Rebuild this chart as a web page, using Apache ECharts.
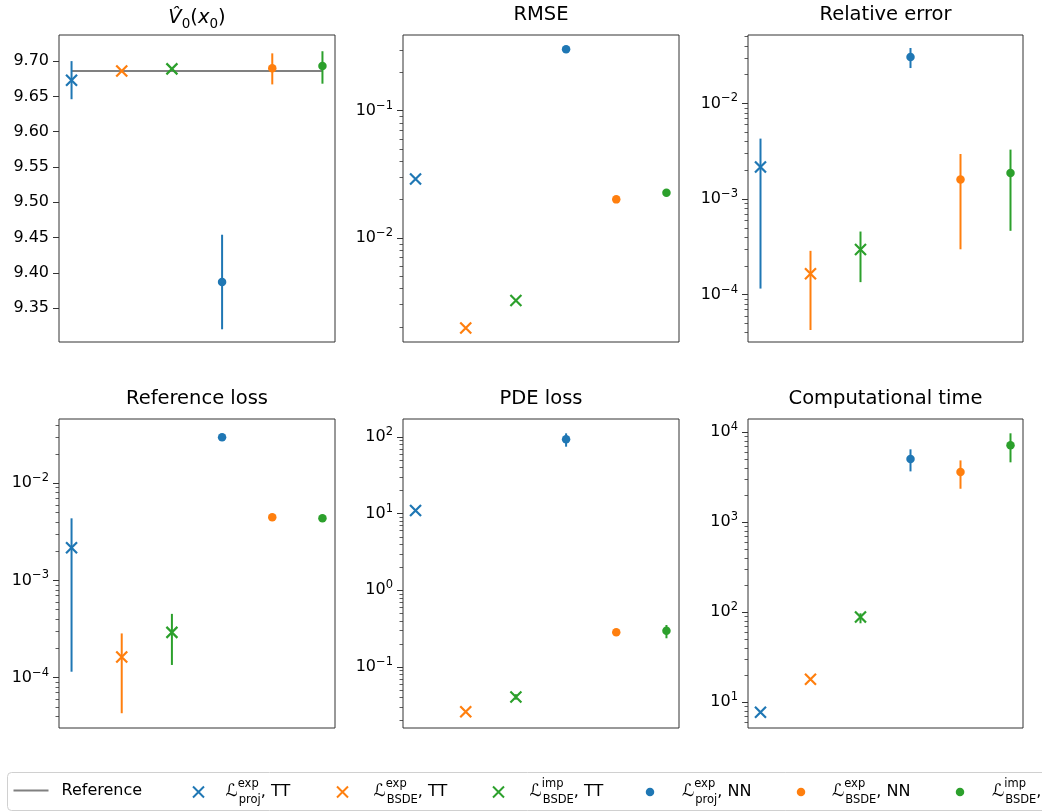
<!DOCTYPE html>
<html>
<head>
<meta charset="utf-8">
<script src="https://cdn.jsdelivr.net/npm/echarts@6/dist/echarts.min.js"></script>
<style>
html, body { margin: 0; padding: 0; background: #fff; }
#chart { width: 1042px; height: 811px; }
</style>
</head>
<body>
<div id="chart"></div>
<script>
// methods, in x order (0..5)
var methods = ['proj_TT', 'bsde_TT', 'imp_TT', 'proj_NN', 'bsde_NN', 'imp_NN'];
var methodColors = ['#1f77b4', '#ff7f0e', '#2ca02c', '#1f77b4', '#ff7f0e', '#2ca02c'];
var methodIsTT = [true, true, true, false, false, false];
var xPos = [0, 1, 2, 3, 4, 5];

// V0(x0)
var v0Val = [9.673, 9.686, 9.689, 9.387, 9.690, 9.693];
var v0Lo = [9.646, null, null, 9.320, 9.667, 9.668];
var v0Hi = [9.700, null, null, 9.454, 9.711, 9.714];
var v0Reference = 9.686;
var v0Ticks = [9.35, 9.40, 9.45, 9.50, 9.55, 9.60, 9.65, 9.70];

// RMSE
var rmseVal = [0.0291, 0.00196, 0.00322, 0.305, 0.0201, 0.0227];
var rmseTicks = [0.01, 0.1];

// relative error
var relVal = [0.00216, 1.65e-4, 2.96e-4, 0.0306, 0.0016, 0.00187];
var relLo = [1.156e-4, 4.26e-5, 1.35e-4, 0.0235, 2.98e-4, 4.65e-4];
var relHi = [0.00429, 2.87e-4, 4.57e-4, 0.0381, 0.00296, 0.00329];
var relTicks = [1e-4, 1e-3, 1e-2];

// reference loss
var refLossVal = [0.00217, 1.63e-4, 2.92e-4, 0.0297, 0.00447, 0.00436];
var refLossLo = [1.15e-4, 4.3e-5, 1.35e-4, null, null, null];
var refLossHi = [0.00436, 2.85e-4, 4.53e-4, null, null, null];
var refLossTicks = [1e-4, 1e-3, 1e-2];

// PDE loss
var pdeVal = [11.0, 0.0261, 0.0407, 93.3, 0.283, 0.298];
var pdeLo = [null, null, 0.0375, 74.8, null, 0.237];
var pdeHi = [null, null, 0.0442, 111.7, null, 0.353];
var pdeTicks = [0.1, 1, 10, 100];

// computational time
var timeVal = [7.74, 18.0, 88.7, 5050, 3617, 7180];
var timeLo = [null, null, 75.5, 3680, 2360, 4640];
var timeHi = [null, null, 97.5, 6470, 4875, 9750];
var timeTicks = [10, 100, 1000, 10000];

var FONT = 'DejaVu Sans';
var CROSS = 'path://M0,0L10,10M0,10L10,0';

var panels = [
    {title: '{v|V\u0302}{s|0}{p|(}{i|x}{s|0}{p|)}', val: v0Val, lo: v0Lo, hi: v0Hi, log: false, ticks: v0Ticks, min: 9.302, max: 9.737, rect: [59, 35, 276, 307]},
    {title: 'RMSE', val: rmseVal, lo: null, hi: null, log: true, ticks: rmseTicks, min: 0.00152, max: 0.394, rect: [403, 35, 276, 307]},
    {title: 'Relative error', val: relVal, lo: relLo, hi: relHi, log: true, ticks: relTicks, min: 3.19e-5, max: 0.0521, rect: [748, 35, 275, 307]},
    {title: 'Reference loss', val: refLossVal, lo: refLossLo, hi: refLossHi, log: true, ticks: refLossTicks, min: 3.03e-5, max: 0.0459, rect: [59, 419, 276, 309]},
    {title: 'PDE loss', val: pdeVal, lo: pdeLo, hi: pdeHi, log: true, ticks: pdeTicks, min: 0.016, max: 171.8, rect: [403, 419, 276, 309]},
    {title: 'Computational time', val: timeVal, lo: timeLo, hi: timeHi, log: true, ticks: timeTicks, min: 5.18, max: 14060, rect: [748, 419, 275, 309]}
];

// minor ticks of a log axis: 2..9 x 10^k inside [lo, hi]
const minorTicks = (lo, hi) => {
    var out = [];
    for (var e = Math.floor(Math.log10(lo)); e <= Math.ceil(Math.log10(hi)); e++) {
        for (var k = 2; k <= 9; k++) {
            var v = k * Math.pow(10, e);
            if (v >= lo && v <= hi) out.push(v);
        }
    }
    return out;
};

const logLabel = (v) => {
    var e = Math.round(Math.log10(v));
    return '{b|10}{sup|' + String(e).replace('-', '\u2212') + '}';
};

var grids = [], xAxes = [], yAxes = [], titles = [], series = [];

panels.forEach((p, i) => {
    var r = p.rect;
    grids.push({left: r[0], top: r[1], width: r[2], height: r[3], show: true,
        borderColor: '#333', borderWidth: 1, backgroundColor: 'transparent'});

    titles.push({
        text: p.title, left: r[0] + r[2] / 2, top: r[1] - 30, textAlign: 'center', padding: 0,
        textStyle: {
            fontFamily: FONT, fontSize: 19.5, fontWeight: 'normal', color: '#000',
            rich: {
                v: {fontFamily: FONT, fontSize: 19.5, fontStyle: 'italic', lineHeight: 26},
                i: {fontFamily: FONT, fontSize: 19.5, fontStyle: 'italic', lineHeight: 26},
                p: {fontFamily: FONT, fontSize: 19.5, lineHeight: 26},
                s: {fontFamily: FONT, fontSize: 13.5, lineHeight: 26, verticalAlign: 'bottom'}
            }
        }
    });

    xAxes.push({gridIndex: i, type: 'value', min: -0.25, max: 5.25,
        axisLine: {show: false, onZero: false}, axisTick: {show: false}, axisLabel: {show: false}, splitLine: {show: false}});

    var yType = p.log ? 'log' : 'value';
    yAxes.push({
        gridIndex: i, type: yType, logBase: 10, min: p.min, max: p.max, position: 'left', offset: 0,
        axisLine: {show: false, onZero: false}, splitLine: {show: false},
        axisTick: {show: true, length: 6, customValues: p.ticks, lineStyle: {color: '#333', width: 1}},
        axisLabel: {
            customValues: p.ticks, margin: 10, color: '#000', fontFamily: FONT, fontSize: 16,
            formatter: p.log ? logLabel : (v) => '{b|' + v.toFixed(2) + '}',
            rich: {
                b: {fontFamily: FONT, fontSize: 16, lineHeight: 22, color: '#000'},
                sup: {fontFamily: FONT, fontSize: 11.5, lineHeight: 22, verticalAlign: 'top', color: '#000'}
            }
        }
    });
    yAxes.push({
        gridIndex: i, type: yType, logBase: 10, min: p.min, max: p.max, position: 'left', offset: 0,
        axisLine: {show: false, onZero: false}, splitLine: {show: false}, axisLabel: {show: false},
        axisTick: {show: p.log, length: 3.5, customValues: p.log ? minorTicks(p.min, p.max) : [],
            lineStyle: {color: '#333', width: 0.8}}
    });

    // error bars
    if (p.lo) {
        var bars = [];
        xPos.forEach((x, j) => {
            if (p.lo[j] != null) bars.push([x, p.lo[j], p.hi[j], j]);
        });
        series.push({
            type: 'custom', xAxisIndex: i, yAxisIndex: 2 * i, z: 2, silent: true,
            data: bars,
            renderItem: (params, api) => {
                var a = api.coord([api.value(0), api.value(1)]);
                var b = api.coord([api.value(0), api.value(2)]);
                return {type: 'line', shape: {x1: a[0], y1: a[1], x2: b[0], y2: b[1]},
                    style: {stroke: methodColors[api.value(3)], lineWidth: 2}};
            }
        });
    }

    if (i === 0) {
        series.push({
            name: 'Reference', type: 'line', xAxisIndex: 0, yAxisIndex: 0, z: 1,
            data: [[xPos[0], v0Reference], [xPos[xPos.length - 1], v0Reference]],
            symbol: 'none', color: '#808080', lineStyle: {color: '#808080', width: 2}
        });
    }

    methods.forEach((m, j) => {
        var tt = methodIsTT[j];
        series.push({
            name: m, type: 'scatter', xAxisIndex: i, yAxisIndex: 2 * i, z: 3,
            data: [[xPos[j], p.val[j]]],
            symbol: tt ? CROSS : 'circle',
            symbolSize: tt ? 11 : 8.5,
            itemStyle: tt ? {color: 'none', borderColor: methodColors[j], borderWidth: 2.2, opacity: 1}
                          : {color: methodColors[j], borderWidth: 0, opacity: 1}
        });
    });
});

// legend (one component per entry to keep matplotlib spacing)
var legendNames = ['Reference'].concat(methods);
var legendText = {
    'Reference': '{r|Reference}',
    'proj_TT': '{L|\u2112}{sup|exp}{sub|proj}{t|, TT}',
    'bsde_TT': '{L|\u2112}{sup|exp}{sub|BSDE}{t|, TT}',
    'imp_TT': '{L|\u2112}{sup|imp}{sub|BSDE}{t|, TT}',
    'proj_NN': '{L|\u2112}{sup|exp}{sub|proj}{t|, NN}',
    'bsde_NN': '{L|\u2112}{sup|exp}{sub|BSDE}{t|, NN}',
    'imp_NN': '{L|\u2112}{sup|imp}{sub|BSDE}{t|, NN}'
};
// icon centre and text start, px
var legendIconX = [30, 196, 340, 496, 650, 801, 960];
var legendTextX = [60, 223, 371, 527, 682, 832, 992];
var legendIconW = [35, 11, 11, 11, 8.5, 8.5, 8.5];
var legendRich = {
    r: {fontFamily: FONT, fontSize: 16, color: '#000', padding: [0, 0, 0, 8]},
    L: {fontFamily: FONT, fontSize: 17, color: '#000', lineHeight: 28},
    sup: {fontFamily: FONT, fontSize: 11.5, color: '#000', lineHeight: 28, verticalAlign: 'top', width: 1},
    sub: {fontFamily: FONT, fontSize: 11.5, color: '#000', lineHeight: 28, verticalAlign: 'bottom'},
    t: {fontFamily: FONT, fontSize: 16, color: '#000', lineHeight: 28}
};
var legends = legendNames.map((n, k) => {
    var isLine = k === 0;
    var boxW = isLine ? legendIconW[k] : 2 * (legendTextX[k] - 5 - legendIconX[k]);
    return {
        data: [n], orient: 'horizontal',
        left: legendIconX[k] - legendIconW[k] / 2,
        top: isLine ? 782.5 : 778,
        padding: 0, itemWidth: boxW, itemHeight: isLine ? 10 : legendIconW[k], selectedMode: false,
        itemStyle: isLine ? {opacity: 0} : {},
        formatter: (name) => legendText[name],
        textStyle: {fontFamily: FONT, fontSize: 16, color: '#000', rich: legendRich}
    };
});

var chart = echarts.init(document.getElementById('chart'));
chart.setOption({
    animation: false,
    backgroundColor: '#fff',
    title: titles,
    grid: grids,
    xAxis: xAxes,
    yAxis: yAxes,
    legend: legends,
    graphic: [{
        type: 'rect', z: -1, silent: true,
        shape: {x: 7.5, y: 772.5, width: 1100, height: 38, r: 4},
        style: {fill: '#fff', stroke: '#d0d0d0', lineWidth: 1}
    }],
    series: series
});
</script>
</body>
</html>
